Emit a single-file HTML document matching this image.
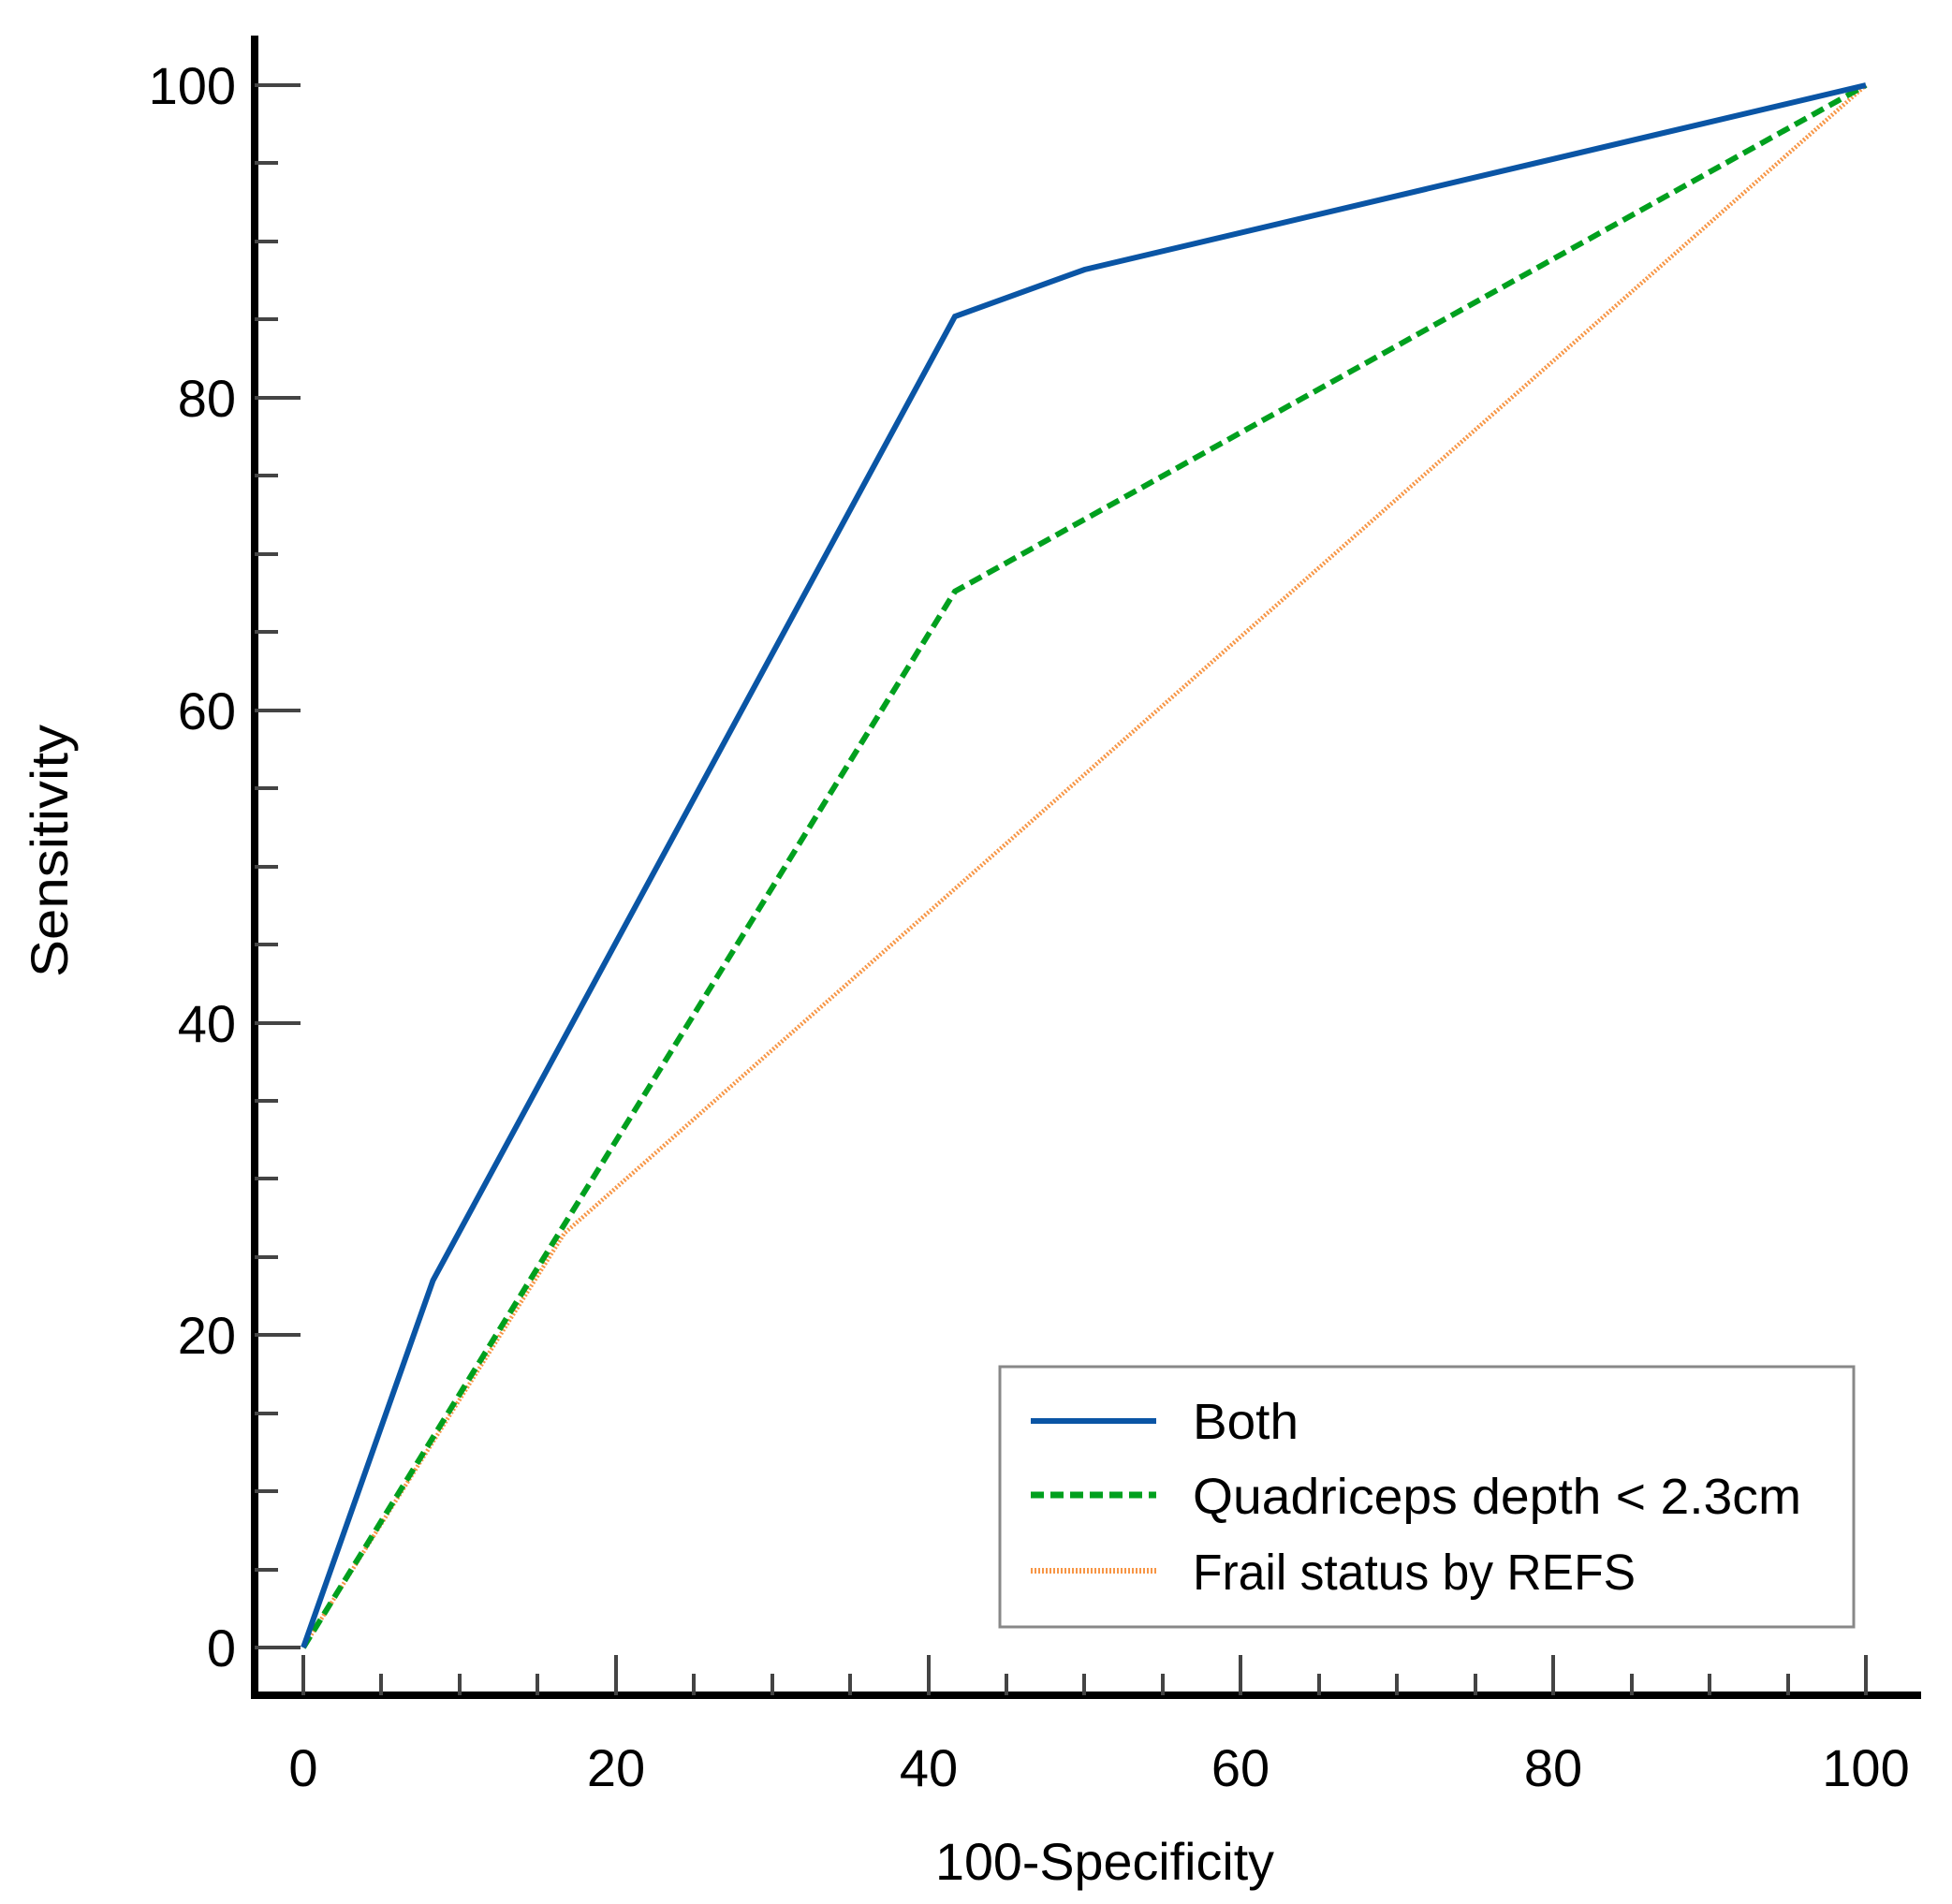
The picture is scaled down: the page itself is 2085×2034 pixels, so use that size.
<!DOCTYPE html>
<html><head><meta charset="utf-8"><style>html,body{margin:0;padding:0;background:#fff}svg{display:block}</style></head>
<body>
<svg width="2085" height="2034" viewBox="0 0 2085 2034" xmlns="http://www.w3.org/2000/svg" font-family="Liberation Sans, sans-serif">
<rect width="2085" height="2034" fill="#fff"/>
<line x1="272" y1="38" x2="272" y2="1815" stroke="#000" stroke-width="8"/>
<line x1="268" y1="1811" x2="2052" y2="1811" stroke="#000" stroke-width="8"/>
<g stroke="#444" stroke-width="4">
<line x1="272" y1="91" x2="321" y2="91"/><line x1="272" y1="425" x2="321" y2="425"/><line x1="272" y1="759" x2="321" y2="759"/><line x1="272" y1="1093" x2="321" y2="1093"/><line x1="272" y1="1426" x2="321" y2="1426"/><line x1="272" y1="1760" x2="321" y2="1760"/>
<line x1="272" y1="174" x2="297" y2="174"/><line x1="272" y1="258" x2="297" y2="258"/><line x1="272" y1="341" x2="297" y2="341"/>
<line x1="272" y1="508" x2="297" y2="508"/><line x1="272" y1="592" x2="297" y2="592"/><line x1="272" y1="675" x2="297" y2="675"/>
<line x1="272" y1="842" x2="297" y2="842"/><line x1="272" y1="926" x2="297" y2="926"/><line x1="272" y1="1009" x2="297" y2="1009"/>
<line x1="272" y1="1176" x2="297" y2="1176"/><line x1="272" y1="1259" x2="297" y2="1259"/><line x1="272" y1="1343" x2="297" y2="1343"/>
<line x1="272" y1="1510" x2="297" y2="1510"/><line x1="272" y1="1593" x2="297" y2="1593"/><line x1="272" y1="1677" x2="297" y2="1677"/>
<line x1="324" y1="1768" x2="324" y2="1811"/><line x1="658" y1="1768" x2="658" y2="1811"/><line x1="992" y1="1768" x2="992" y2="1811"/><line x1="1325" y1="1768" x2="1325" y2="1811"/><line x1="1659" y1="1768" x2="1659" y2="1811"/><line x1="1993" y1="1768" x2="1993" y2="1811"/>
<line x1="407" y1="1788" x2="407" y2="1811"/><line x1="491" y1="1788" x2="491" y2="1811"/><line x1="574" y1="1788" x2="574" y2="1811"/>
<line x1="741" y1="1788" x2="741" y2="1811"/><line x1="825" y1="1788" x2="825" y2="1811"/><line x1="908" y1="1788" x2="908" y2="1811"/>
<line x1="1075" y1="1788" x2="1075" y2="1811"/><line x1="1158" y1="1788" x2="1158" y2="1811"/><line x1="1242" y1="1788" x2="1242" y2="1811"/>
<line x1="1409" y1="1788" x2="1409" y2="1811"/><line x1="1492" y1="1788" x2="1492" y2="1811"/><line x1="1576" y1="1788" x2="1576" y2="1811"/>
<line x1="1743" y1="1788" x2="1743" y2="1811"/><line x1="1826" y1="1788" x2="1826" y2="1811"/><line x1="1910" y1="1788" x2="1910" y2="1811"/>
</g>
<g font-size="56" fill="#000" text-anchor="end">
<text x="252" y="111">100</text><text x="252" y="445">80</text><text x="252" y="779">60</text><text x="252" y="1113">40</text><text x="252" y="1446">20</text><text x="252" y="1780">0</text>
</g>
<g font-size="56" fill="#000" text-anchor="middle">
<text x="324" y="1908">0</text><text x="658" y="1908">20</text><text x="992" y="1908">40</text><text x="1325" y="1908">60</text><text x="1659" y="1908">80</text><text x="1993" y="1908">100</text>
<text x="1180" y="2008" textLength="362" lengthAdjust="spacingAndGlyphs">100-Specificity</text>
<text x="0" y="0" transform="translate(72,909) rotate(-90)" textLength="270" lengthAdjust="spacingAndGlyphs">Sensitivity</text>
</g>
<polyline points="324,1760 602.7,1317.7 1993,91" fill="none" stroke="#f79646" stroke-width="4.5" stroke-dasharray="2,2"/>
<polyline points="324,1760 1020,631.8 1993,91" fill="none" stroke="#00a01e" stroke-width="6" stroke-dasharray="14,7"/>
<polyline points="324,1760 462.5,1367.8 1020,338 1158.5,288 1993,91" fill="none" stroke="#0a55a5" stroke-width="6"/>
<rect x="1068" y="1460" width="912" height="278" fill="#fff" stroke="#888" stroke-width="3"/>
<line x1="1101" y1="1518" x2="1235" y2="1518" stroke="#0a55a5" stroke-width="6"/>
<line x1="1101" y1="1597" x2="1235" y2="1597" stroke="#00a01e" stroke-width="7" stroke-dasharray="14,7"/>
<line x1="1101" y1="1678" x2="1235" y2="1678" stroke="#f79646" stroke-width="6" stroke-dasharray="2,2"/>
<g font-size="54" fill="#000">
<text x="1274" y="1537" textLength="113" lengthAdjust="spacingAndGlyphs">Both</text>
<text x="1274" y="1617" textLength="650" lengthAdjust="spacingAndGlyphs">Quadriceps depth &lt; 2.3cm</text>
<text x="1274" y="1698" textLength="473" lengthAdjust="spacingAndGlyphs">Frail status by REFS</text>
</g>
</svg>
</body></html>
